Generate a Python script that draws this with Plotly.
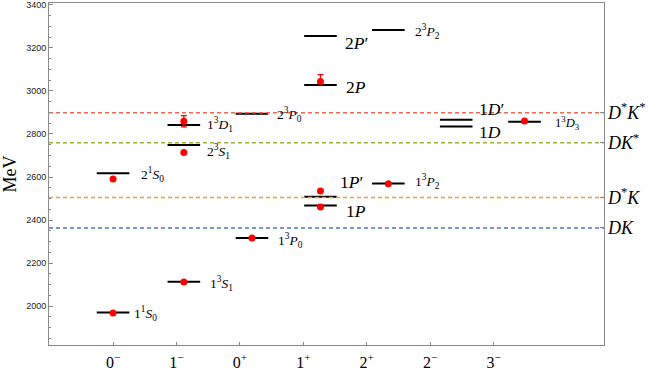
import plotly.graph_objects as go

# ---------------- data ----------------
jp_labels = ["0<sup>−</sup>", "1<sup>−</sup>", "0<sup>+</sup>", "1<sup>+</sup>",
             "2<sup>+</sup>", "2<sup>−</sup>", "3<sup>−</sup>"]
jp_ticks = [0, 1, 2, 3, 4, 5, 6]
# horizontal position of each J^P column of levels (in tick units)
jp_centers = [0.0, 1.116, 2.19, 3.27, 4.34, 5.41, 6.487]

# theoretical levels: column index, mass (MeV), label
level_col = [0, 0, 1, 1, 1, 2, 2, 3, 3, 3, 3, 4, 4, 5, 5, 6]
level_mass = [1970, 2617, 2113, 2749, 2842, 2316, 2894, 2467, 2508, 3028, 3256,
              2570, 3284, 2835, 2866, 2857]
level_text = [
    "1<sup>1</sup><i>S</i><sub>0</sub>", "2<sup>1</sup><i>S</i><sub>0</sub>",
    "1<sup>3</sup><i>S</i><sub>1</sub>", "2<sup>3</sup><i>S</i><sub>1</sub>",
    "1<sup>3</sup><i>D</i><sub>1</sub>",
    "1<sup>3</sup><i>P</i><sub>0</sub>", "2<sup>3</sup><i>P</i><sub>0</sub>",
    "1<i>P</i>", "1<i>P</i>′", "2<i>P</i>", "2<i>P</i>′",
    "1<sup>3</sup><i>P</i><sub>2</sub>", "2<sup>3</sup><i>P</i><sub>2</sub>",
    "1<i>D</i>", "1<i>D</i>′",
    "1<sup>3</sup><i>D</i><sub>3</sub>",
]

# experimental states: column index, mass, +err, -err
exp_col = [0, 0, 1, 1, 1, 2, 3, 3, 3, 4, 6]
exp_mass = [1968, 2591, 2112, 2714, 2859, 2317, 2460, 2535, 3044, 2569, 2860]
exp_err_plus = [0, 0, 0, 0, 26, 0, 0, 0, 32, 0, 0]
exp_err_minus = [0, 0, 0, 0, 26, 0, 0, 0, 9, 0, 0]

# thresholds
thr_mass = [2363, 2505, 2759, 2899]
thr_text = ["<i>DK</i>", "<i>D</i><sup>*</sup><i>K</i>",
            "<i>DK</i><sup>*</sup>", "<i>D</i><sup>*</sup><i>K</i><sup>*</sup>"]

# ---------------- styles ----------------
HALF_W = 0.257
XMIN, XMAX = -1.01, 7.74
YMIN, YMAX = 1819, 3409
SERIF = "Liberation Serif, DejaVu Serif, Times New Roman, serif"
thr_colors = ["#4c78c0", "#eca03a", "#9fae3e", "#f0694e"]
label_dx = [0.04, 0.15, 0.125, 0.075, 0.075, 0.12, 0.11, 0.115, 0.02, 0.115,
            0.1, 0.135, 0.125, 0.075, 0.075, 0.19]
label_dy = [-1, -1, -2, -7, 0, -2, -1, -5, 15, -2, -7, 1.5, -2, -6, 11, -1]
label_size = [13.5, 13.5, 13.5, 13.5, 13.5, 13.5, 13.5, 17.5, 17.5, 17.5, 17.5,
              13.5, 13.5, 17.5, 17.5, 12.5]

fig = go.Figure()

# level lines
lx, ly = [], []
for c, m in zip(level_col, level_mass):
    xc = jp_centers[c]
    lx += [xc - HALF_W, xc + HALF_W, None]
    ly += [m, m, None]
fig.add_trace(go.Scatter(x=lx, y=ly, mode="lines",
                         line=dict(color="black", width=2), hoverinfo="skip",
                         showlegend=False))

# threshold lines
for m, col in zip(thr_mass, thr_colors):
    fig.add_trace(go.Scatter(x=[XMIN, XMAX], y=[m, m], mode="lines",
                             line=dict(color=col, width=1.5, dash="4px,3px"),
                             hoverinfo="skip", showlegend=False))

# experimental points
fig.add_trace(go.Scatter(
    x=[jp_centers[c] for c in exp_col], y=exp_mass, mode="markers",
    marker=dict(color="red", size=7),
    error_y=dict(type="data", array=exp_err_plus, arrayminus=exp_err_minus,
                 color="red", thickness=1.3, width=3, symmetric=False),
    showlegend=False))

# dummy trace for the right axis
fig.add_trace(go.Scatter(x=[None], y=[None], yaxis="y2", showlegend=False))

# level labels
for i, (c, m, t) in enumerate(zip(level_col, level_mass, level_text)):
    fig.add_annotation(x=jp_centers[c] + HALF_W + label_dx[i], y=m, text=t,
                       xanchor="left", yanchor="middle", showarrow=False,
                       yshift=label_dy[i],
                       font=dict(family=SERIF, size=label_size[i], color="black"))

axis_line = "#8a8a8a"
fig.update_layout(
    width=654, height=373,
    margin=dict(l=49, r=50, t=3, b=28),
    paper_bgcolor="white", plot_bgcolor="white",
    xaxis=dict(range=[XMIN, XMAX], tickvals=jp_ticks, ticktext=jp_labels,
               automargin=False, ticklabelstandoff=3,
               showgrid=False, zeroline=False, showline=True, mirror=True,
               linecolor=axis_line, linewidth=1, ticks="inside", ticklen=3,
               tickcolor=axis_line,
               tickfont=dict(family=SERIF, size=16, color="black")),
    yaxis=dict(range=[YMIN, YMAX], dtick=200, showgrid=False, zeroline=False,
               automargin=False,
               showline=True, mirror=True, linecolor=axis_line, linewidth=1,
               ticks="inside", ticklen=4, tickcolor=axis_line,
               minor=dict(dtick=50, ticks="inside", ticklen=2,
                          tickcolor=axis_line),
               tickfont=dict(family="Liberation Sans, Arial, sans-serif",
                             size=9, color="#222"),
               title=dict(text="MeV", font=dict(family=SERIF, size=18,
                                                color="black"), standoff=6)),
    yaxis2=dict(range=[YMIN, YMAX], overlaying="y", side="right",
                automargin=False, ticklabelstandoff=3,
                tickvals=thr_mass, ticktext=thr_text, showgrid=False,
                zeroline=False, showline=False, ticks="inside", ticklen=4,
                tickcolor=axis_line,
                tickfont=dict(family=SERIF, size=18, color="black")),
)

fig.write_html("out.html", config={"displayModeBar": False},
               post_script="document.body.style.margin='0px';"
                           "document.body.style.overflow='hidden';")
